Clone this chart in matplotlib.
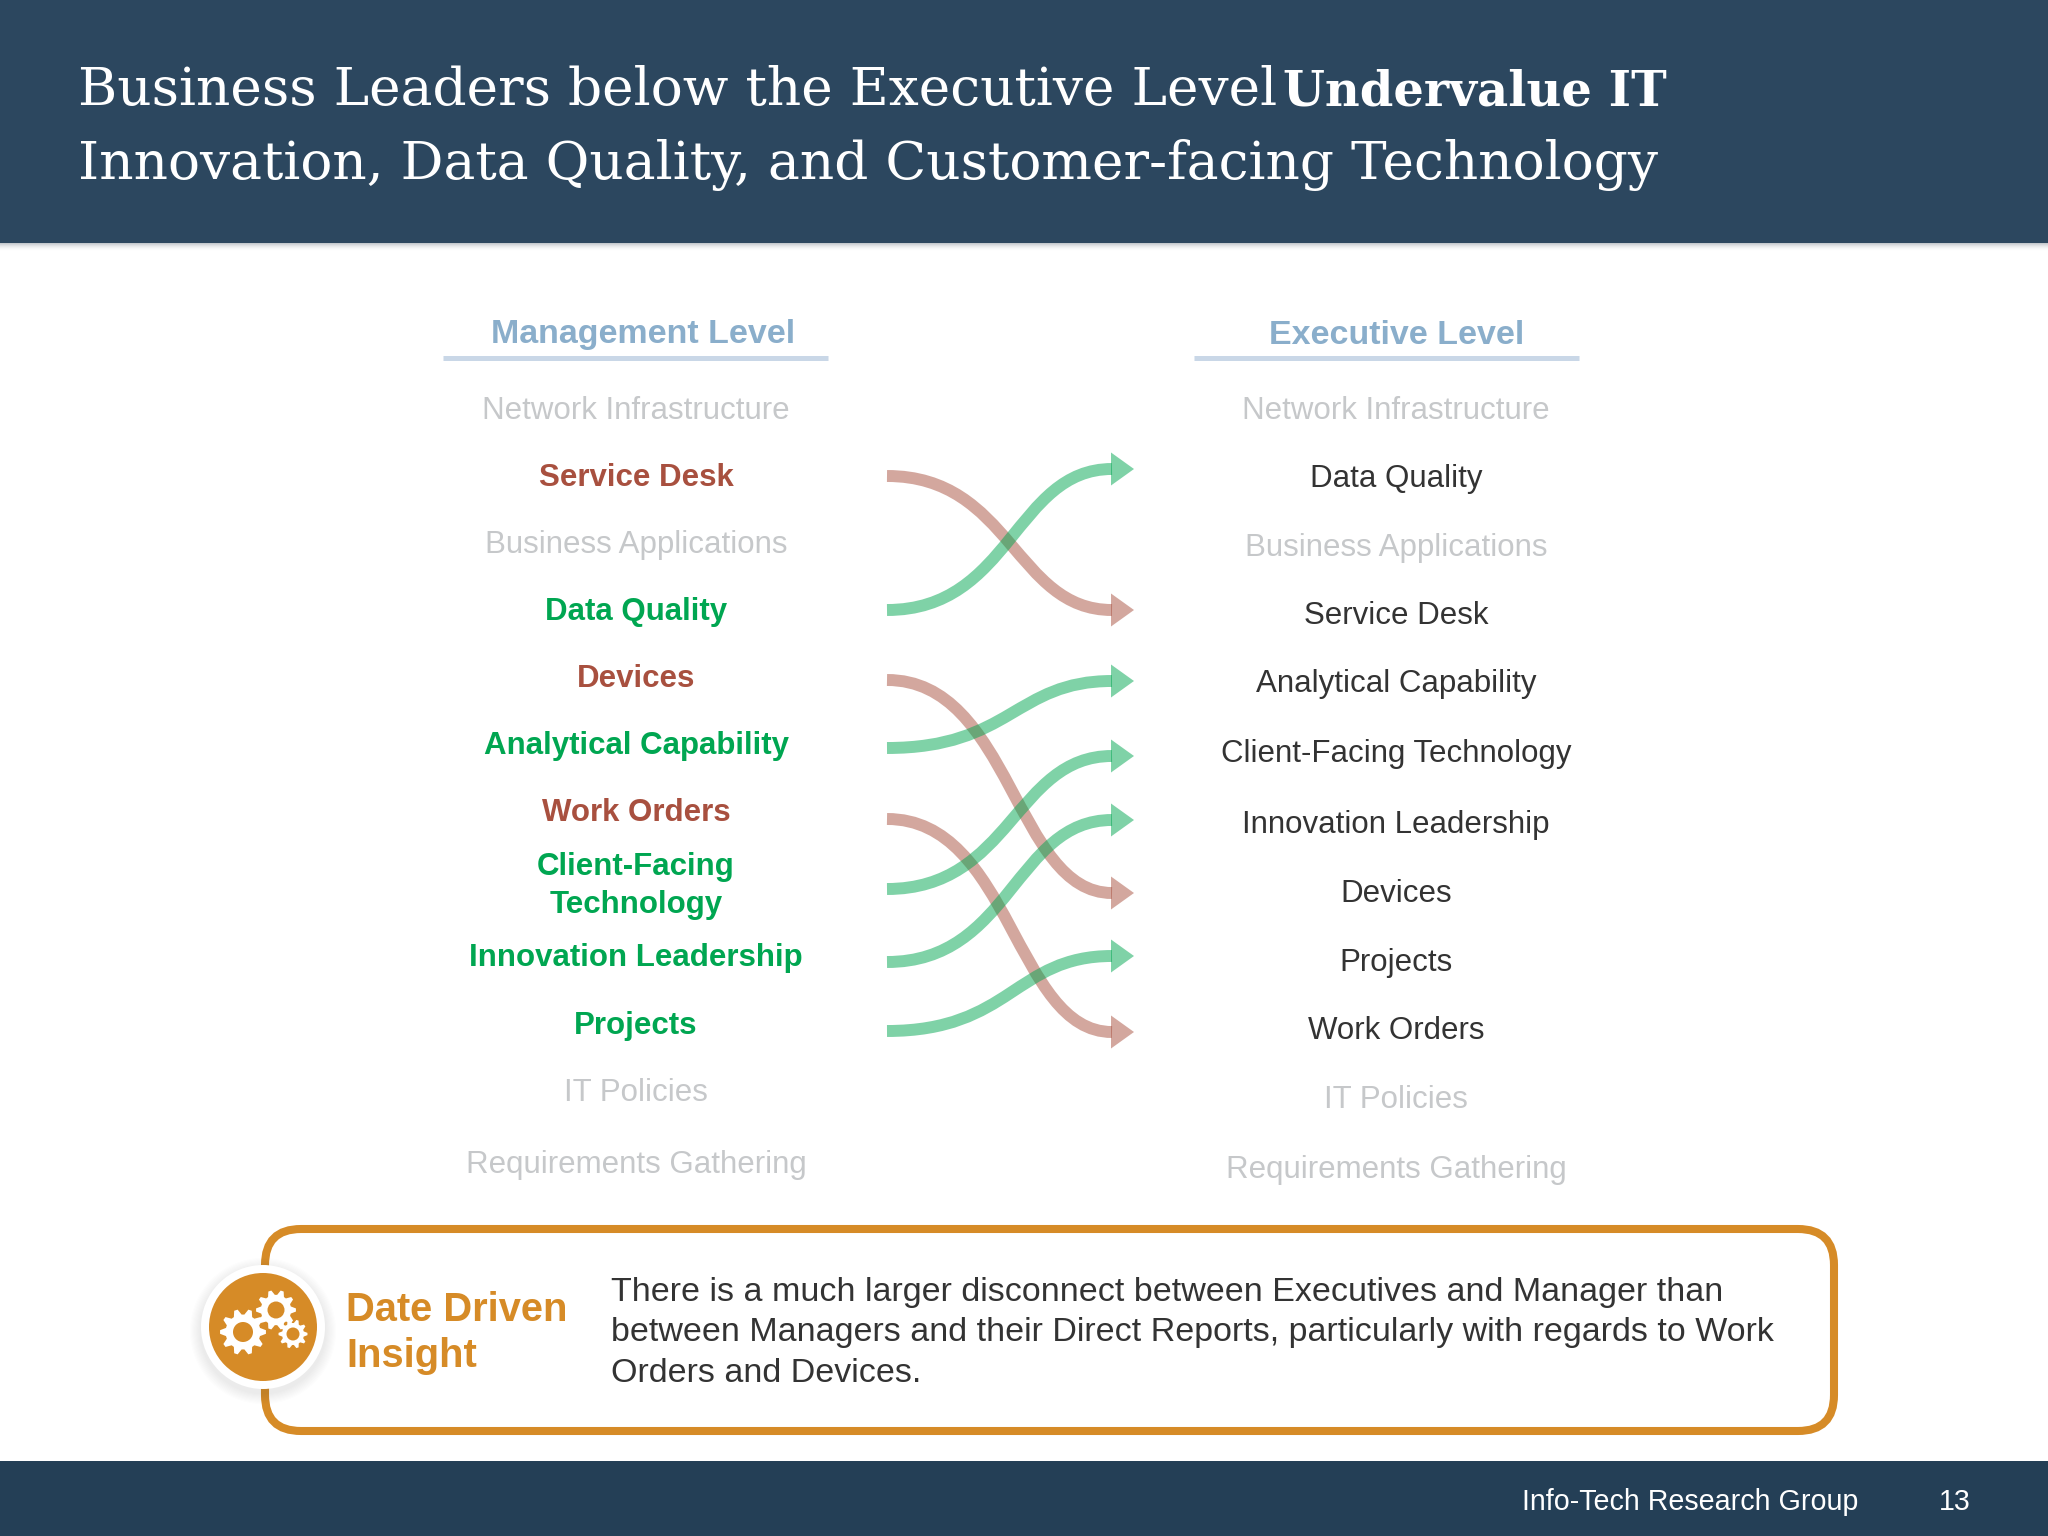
import numpy as np
import matplotlib
matplotlib.use("Agg")
import matplotlib.pyplot as plt
from matplotlib.patches import Rectangle, Circle, FancyBboxPatch, PathPatch, Polygon
from matplotlib.path import Path

# ---------- content ----------
TITLE_LINE1 = "Business Leaders below the Executive Level"
TITLE_BOLD = "Undervalue IT"
TITLE_LINE2 = "Innovation, Data Quality, and Customer-facing Technology"
HEAD_LEFT = "Management Level"
HEAD_RIGHT = "Executive Level"
mgmt_labels = ["Network Infrastructure", "Service Desk", "Business Applications", "Data Quality",
               "Devices", "Analytical Capability", "Work Orders", "Client-Facing\nTechnology",
               "Innovation Leadership", "Projects", "IT Policies", "Requirements Gathering"]
mgmt_state = ["same", "down", "same", "up", "down", "up", "down", "up", "up", "up", "same", "same"]
exec_labels = ["Network Infrastructure", "Data Quality", "Business Applications", "Service Desk",
               "Analytical Capability", "Client-Facing Technology", "Innovation Leadership", "Devices",
               "Projects", "Work Orders", "IT Policies", "Requirements Gathering"]
INSIGHT_HEAD = "Date Driven\nInsight"
INSIGHT_BODY = ("There is a much larger disconnect between Executives and Manager than\n"
                "between Managers and their Direct Reports, particularly with regards to Work\n"
                "Orders and Devices.")
FOOTER = "Info-Tech Research Group"
PAGE = "13"

# ---------- layout (pixels) ----------
W, H = 2048, 1536
left_row_y = [411, 478, 545, 612, 679, 746, 813, 886, 958, 1026, 1093, 1165]
right_row_y = [411, 479, 548, 616, 684, 754, 825, 894, 963, 1031, 1100, 1170]
arrow_start_nudge = [0, -2, 0, -2, 1, 2, 6, 3, 4, 5, 0, 0]
arrow_end_nudge = [0, -10, 0, -6, -3, 2, -5, -1, -7, 1, 0, 0]
LEFT_CX, RIGHT_CX = 636, 1396
X0, XH, X1 = 887, 1112, 1134

SANS = "Liberation Sans"
SERIF = "DejaVu Serif"
NAVY, FOOT = "#2c475f", "#243f56"
GREY, DARK, RED, GREEN = "#c6c8ca", "#333333", "#a8503f", "#00a651"
HEADC, LINEC, ORANGE = "#8aaecb", "#c9d7e7", "#d68b27"
STATE_COL = {"same": GREY, "up": GREEN, "down": RED}

fig = plt.figure(figsize=(20.48, 15.36), dpi=100, facecolor="white")
ax = fig.add_axes([0, 0, 1, 1])
ax.set_xlim(0, W)
ax.set_ylim(H, 0)
ax.axis("off")

# header with soft shadow, footer
for i in range(8):
    ax.add_patch(Rectangle((0, 243 + i), W, 1, fc="#8a949c", alpha=0.5 * (1 - i / 8) ** 2, lw=0))
ax.add_patch(Rectangle((0, 0), W, 243, fc=NAVY, lw=0))
ax.add_patch(Rectangle((0, 1461), W, 75, fc=FOOT, lw=0))

# title
ax.text(78, 105, TITLE_LINE1, family=SERIF, size=38.4, color="white", va="baseline", ha="left")
ax.text(78, 179, TITLE_LINE2, family=SERIF, size=38.4, color="white", va="baseline", ha="left")
ax.text(1283, 105, TITLE_BOLD, family=SERIF, weight="bold", size=34.6, color="white", va="baseline", ha="left")

# column heads
for cx, head, lx in [(643.5, HEAD_LEFT, 443), (1396.5, HEAD_RIGHT, 1194)]:
    ax.text(cx, 335, head, family=SANS, weight="bold", size=24.5, color=HEADC, ha="center", va="center")
    ax.plot([lx, lx + 385], [358, 358], color=LINEC, lw=3.6, solid_capstyle="butt")

# labels
LABEL = 22.5
for name, state, y in zip(mgmt_labels, mgmt_state, left_row_y):
    ax.text(LEFT_CX, y, name, family=SANS, size=LABEL, color=STATE_COL[state],
            weight="normal" if state == "same" else "bold", ha="center", va="center", linespacing=1.32)
for name, y in zip(exec_labels, right_row_y):
    dim = mgmt_state[mgmt_labels.index(name)] == "same" if name in mgmt_labels else False
    ax.text(RIGHT_CX, y, name, family=SANS, size=LABEL, color=GREY if dim else DARK, ha="center", va="center")

# arrows
def flow(y0, y1, colour):
    dx = XH - X0
    verts = [(X0, y0), (X0 + 0.55 * dx, y0), (X0 + 0.57 * dx, y1), (XH, y1)]
    codes = [Path.MOVETO, Path.CURVE4, Path.CURVE4, Path.CURVE4]
    ax.add_patch(PathPatch(Path(verts, codes), fc="none", ec=colour, lw=8.6, alpha=0.5, capstyle="butt", zorder=3))
    ax.add_patch(Polygon([(XH - 1, y1 - 16.5), (X1, y1), (XH - 1, y1 + 16.5)], fc=colour, lw=0, alpha=0.5, zorder=3))

flat_exec = [n.replace("\n", " ") for n in exec_labels]
for i, (name, state) in enumerate(zip(mgmt_labels, mgmt_state)):
    if state == "same":
        continue
    j = flat_exec.index(name.replace("\n", " "))
    flow(left_row_y[i] + arrow_start_nudge[i], right_row_y[j] + arrow_end_nudge[j],
         GREEN if state == "up" else RED)

# callout
ax.add_patch(FancyBboxPatch((265 + 36, 1229 + 36), 1569 - 72, 202 - 72,
                            boxstyle="round,pad=36,rounding_size=36", fc="white", ec=ORANGE, lw=5.8, zorder=2))
for i in range(10, 0, -1):
    ax.add_patch(Circle((263, 1331), 62 + i * 1.1, fc="#555555", alpha=0.012, lw=0, zorder=3))
ax.add_patch(Circle((263, 1327), 62, fc="white", lw=0, zorder=4))
ax.add_patch(Circle((263, 1327), 54, fc=ORANGE, lw=0, zorder=5))

def gear(cx, cy, r, teeth, hole):
    n = teeth * 4
    pts = []
    for k in range(n):
        a = 2 * np.pi * (k - 0.5) / n
        rad = r if k % 4 in (0, 1) else r * 0.76
        pts.append((cx + rad * np.cos(a), cy + rad * np.sin(a)))
    ax.add_patch(Polygon(pts, fc="white", lw=0, zorder=6))
    ax.add_patch(Circle((cx, cy), hole, fc=ORANGE, lw=0, zorder=7))

gear(243, 1332, 23, 10, 10)
gear(276, 1310, 20, 10, 8.5)
gear(293, 1334, 14.5, 10, 6.5)

ax.text(346, 1333, INSIGHT_HEAD, family=SANS, weight="bold", size=28.7, color=ORANGE, ha="left", va="center",
        linespacing=1.29, zorder=6)
ax.text(611, 1333, INSIGHT_BODY, family=SANS, size=24.5, color=DARK, ha="left", va="center", linespacing=1.385, zorder=6)

# footer text
ax.text(1858, 1502, FOOTER, family=SANS, size=20.6, color="white", ha="right", va="center")
ax.text(1971, 1502, PAGE, family=SANS, size=20.6, color="white", ha="right", va="center")

fig.savefig("out.png", dpi=100)
